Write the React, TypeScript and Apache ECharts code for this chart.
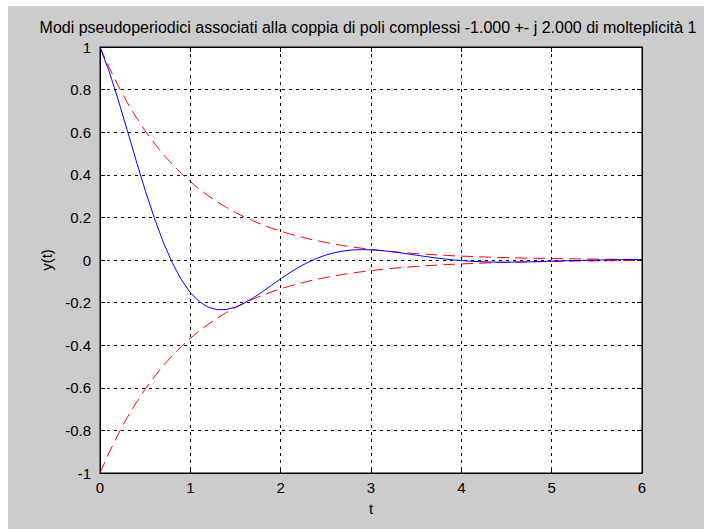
import React, { useEffect, useRef } from "react";
import * as echarts from "echarts";

const titleText =
  "Modi pseudoperiodici associati alla coppia di poli complessi -1.000 +- j 2.000 di molteplicità 1";
const xTicks = [0, 1, 2, 3, 4, 5, 6];
const yTickLabels = ["-1", "-0.8", "-0.6", "-0.4", "-0.2", "0", "0.2", "0.4", "0.6", "0.8", "1"];

const tValues = [
  0, 0.1, 0.2, 0.3, 0.4, 0.5, 0.6, 0.7, 0.8, 0.9, 1.0, 1.1, 1.2, 1.3, 1.4, 1.5, 1.6, 1.7, 1.8, 1.9,
  2.0, 2.1, 2.2, 2.3, 2.4, 2.5, 2.6, 2.7, 2.8, 2.9, 3.0, 3.1, 3.2, 3.3, 3.4, 3.5, 3.6, 3.7, 3.8, 3.9,
  4.0, 4.1, 4.2, 4.3, 4.4, 4.5, 4.6, 4.7, 4.8, 4.9, 5.0, 5.1, 5.2, 5.3, 5.4, 5.5, 5.6, 5.7, 5.8, 5.9, 6.0,
];
const modeValues = [
  1, 0.8868, 0.7541, 0.6114, 0.467, 0.3277, 0.1989, 0.0844, -0.0131, -0.0924, -0.1531, -0.1959,
  -0.2221, -0.2335, -0.2323, -0.2209, -0.2016, -0.1766, -0.1482, -0.1183, -0.0885, -0.06, -0.0341,
  -0.0113, 0.0079, 0.0233, 0.0348, 0.0427, 0.0472, 0.0487, 0.0478, 0.0449, 0.0405, 0.0351, 0.029,
  0.0228, 0.0166, 0.0108, 0.0056, 0.0011, -0.0027, -0.0056, -0.0078, -0.0092, -0.01, -0.0101,
  -0.0098, -0.0091, -0.0081, -0.0069, -0.0056, -0.0044, -0.0031, -0.002, -0.0009, 0.0, 0.0008,
  0.0014, 0.0017, 0.002, 0.0021,
];
const envelopeValues = [
  1, 0.9048, 0.8187, 0.7408, 0.6703, 0.6065, 0.5488, 0.4966, 0.4493, 0.4066, 0.3679, 0.3329, 0.3012,
  0.2725, 0.2466, 0.2231, 0.2019, 0.1827, 0.1653, 0.1496, 0.1353, 0.1225, 0.1108, 0.1003, 0.0907,
  0.0821, 0.0743, 0.0672, 0.0608, 0.055, 0.0498, 0.045, 0.0408, 0.0369, 0.0334, 0.0302, 0.0273,
  0.0247, 0.0224, 0.0202, 0.0183, 0.0166, 0.015, 0.0136, 0.0123, 0.0111, 0.0101, 0.0091, 0.0082,
  0.0074, 0.0067, 0.0061, 0.0055, 0.005, 0.0045, 0.0041, 0.0037, 0.0033, 0.003, 0.0027, 0.0025,
];

export default function App() {
  const ref = useRef<HTMLDivElement>(null);
  useEffect(() => {
    if (!ref.current) return;
    const chart = echarts.init(ref.current, null, { renderer: "svg" });
    const font = "Liberation Sans, Arial, sans-serif";
    const upper = tValues.map((t, i) => [t, envelopeValues[i]]);
    const lower = tValues.map((t, i) => [t, -envelopeValues[i]]);
    const mode = tValues.map((t, i) => [t, modeValues[i]]);
    const yFmt = (v: number) => {
      const idx = Math.round((v + 1) / 0.2);
      return yTickLabels[idx] ?? "";
    };
    chart.setOption({
      animation: false,
      backgroundColor: "#cccccc",
      title: {
        text: titleText,
        left: 355,
        top: 8,
        textAlign: "center",
        textStyle: { fontFamily: font, fontSize: 16, fontWeight: "normal", color: "#000" },
      },
      grid: {
        left: 92,
        top: 41,
        right: 62,
        bottom: 56,
        show: true,
        backgroundColor: "#ffffff",
        borderColor: "#000",
        borderWidth: 1,
      },
      xAxis: [
        {
          type: "value",
          min: 0,
          max: 6,
          interval: 1,
          name: "t",
          nameLocation: "middle",
          nameGap: 28,
          nameTextStyle: { fontFamily: font, fontSize: 15, color: "#000" },
          axisLine: { show: true, onZero: false, lineStyle: { color: "#000", width: 1 } },
          axisTick: { show: true, inside: true, length: 5, lineStyle: { color: "#000" } },
          axisLabel: {
            fontFamily: font,
            fontSize: 15,
            color: "#000",
            margin: 7,
            formatter: (v: number) => String(xTicks[Math.round(v)] ?? v),
          },
          splitLine: { show: true, lineStyle: { color: "#000", type: [3, 4], width: 1 } },
        },
        {
          type: "value",
          position: "top",
          min: 0,
          max: 6,
          interval: 1,
          axisLine: { show: true, onZero: false, lineStyle: { color: "#000" } },
          axisTick: { show: true, inside: true, length: 5, lineStyle: { color: "#000" } },
          axisLabel: { show: false },
          splitLine: { show: false },
        },
      ],
      yAxis: [
        {
          type: "value",
          min: -1,
          max: 1,
          interval: 0.2,
          name: "y(t)",
          nameLocation: "middle",
          nameGap: 46,
          nameRotate: 90,
          nameTextStyle: { fontFamily: font, fontSize: 15, color: "#000" },
          axisLine: { show: true, onZero: false, lineStyle: { color: "#000", width: 1 } },
          axisTick: { show: true, inside: true, length: 5, lineStyle: { color: "#000" } },
          axisLabel: { fontFamily: font, fontSize: 15, color: "#000", margin: 9, formatter: yFmt },
          splitLine: { show: true, lineStyle: { color: "#000", type: [3, 4], width: 1 } },
        },
        {
          type: "value",
          position: "right",
          min: -1,
          max: 1,
          interval: 0.2,
          axisLine: { show: true, onZero: false, lineStyle: { color: "#000" } },
          axisTick: { show: true, inside: true, length: 5, lineStyle: { color: "#000" } },
          axisLabel: { show: false },
          splitLine: { show: false },
        },
      ],
      series: [
        {
          type: "line",
          data: upper,
          showSymbol: false,
          lineStyle: { color: "#ff0000", width: 1, type: [12, 6] },
          z: 3,
        },
        {
          type: "line",
          data: lower,
          showSymbol: false,
          lineStyle: { color: "#ff0000", width: 1, type: [12, 6] },
          z: 3,
        },
        {
          type: "line",
          data: mode,
          showSymbol: false,
          lineStyle: { color: "#0000ff", width: 1, type: "solid" },
          z: 4,
        },
      ],
    });
    return () => chart.dispose();
  }, []);
  return (
    <div
      ref={ref}
      style={{ position: "absolute", left: 8, top: 6, width: 696, height: 523 }}
    />
  );
}
